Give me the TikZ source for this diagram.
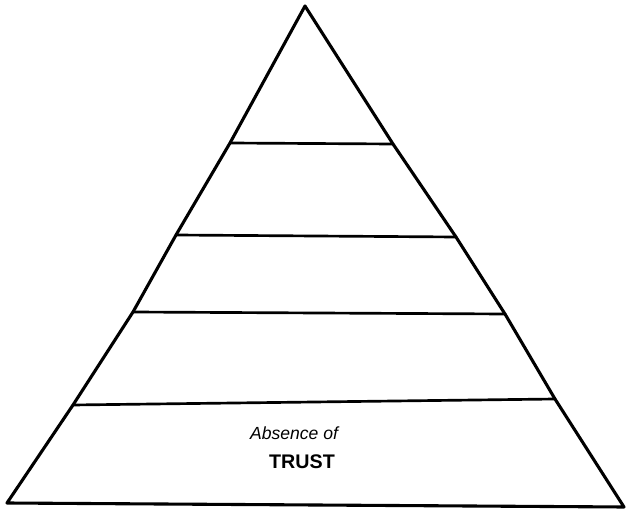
\documentclass[tikz,border=0pt]{standalone}
\usepackage{fontspec}
\setsansfont{Liberation Sans}

\begin{document}

\begin{tikzpicture}[
x=0.025cm,
y=-0.025cm,
edge/.style={
line width=2.2pt,
line join=round,
line cap=round
},
tier/.style={
line width=1.9pt,
line cap=round
},
label/.style={
align=center,
font=\sffamily
}
]

\useasboundingbox (0,0) rectangle (627,512);

%%%%%%%%%%%%%%%%%%%%%%%%%%%%%%%%%%%%%%%%%%%%%
% Corners and tier ends
%%%%%%%%%%%%%%%%%%%%%%%%%%%%%%%%%%%%%%%%%%%%%

\coordinate (apex) at (305,6);
\coordinate (left) at (7,503);
\coordinate (right) at (624,507);

\coordinate (t1l) at (230,143);
\coordinate (t1r) at (393,144);
\coordinate (t2l) at (176,235);
\coordinate (t2r) at (456,237);
\coordinate (t3l) at (133,312);
\coordinate (t3r) at (505,314);
\coordinate (t4l) at (73,405);
\coordinate (t4r) at (555,399);

%%%%%%%%%%%%%%%%%%%%%%%%%%%%%%%%%%%%%%%%%%%%%
% Outline
%%%%%%%%%%%%%%%%%%%%%%%%%%%%%%%%%%%%%%%%%%%%%

\draw[edge] (apex)--(t1l)--(t2l)--(t3l)--(t4l)--(left)
--(right)--(t4r)--(t3r)--(t2r)--(t1r)--cycle;

%%%%%%%%%%%%%%%%%%%%%%%%%%%%%%%%%%%%%%%%%%%%%
% Tiers
%%%%%%%%%%%%%%%%%%%%%%%%%%%%%%%%%%%%%%%%%%%%%

\draw[tier] (t1l)--(t1r);

\draw[tier] (t2l)--(t2r);

\draw[tier] (t3l)--(t3r);

\draw[tier] (t4l)--(t4r);

%%%%%%%%%%%%%%%%%%%%%%%%%%%%%%%%%%%%%%%%%%%%%
% Label
%%%%%%%%%%%%%%%%%%%%%%%%%%%%%%%%%%%%%%%%%%%%%

\node[label,font=\sffamily\itshape\fontsize{12.5}{14}\selectfont] (absence) at (294,433)
{Absence of};

\node[label,font=\sffamily\bfseries\fontsize{14}{16}\selectfont] (trust) at (302,462)
{TRUST};

\end{tikzpicture}

\end{document}
